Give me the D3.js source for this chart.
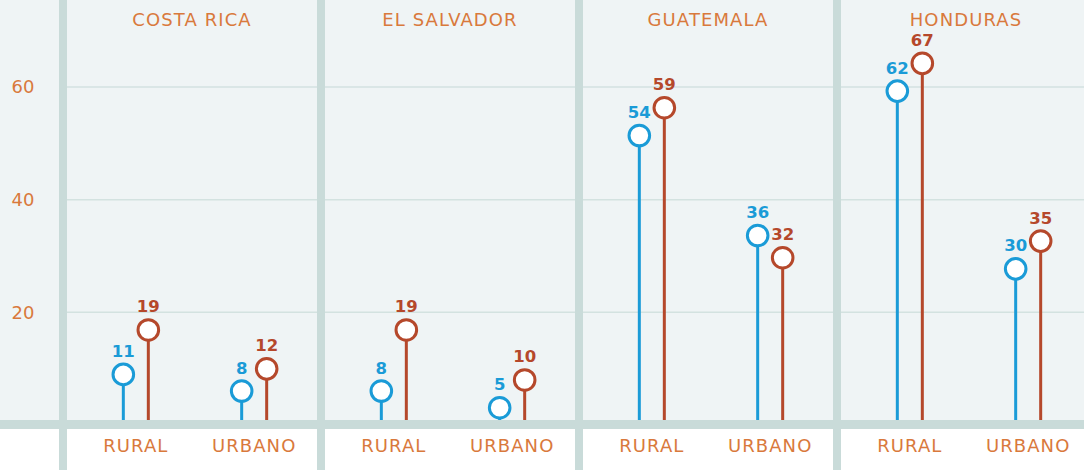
<!DOCTYPE html>
<meta charset="utf-8">
<style>
  body { margin: 0; background: #fff; }
  svg { display: block; }
  text { font-family: "DejaVu Sans", sans-serif; }
</style>
<body></body>
<script src="https://cdn.jsdelivr.net/npm/d3@7"></script>
<script>
  const width = 1084
  const height = 470

  const countries = ["COSTA RICA", "EL SALVADOR", "GUATEMALA", "HONDURAS"]
  const areas = ["RURAL", "URBANO"]
  const yTicks = [20, 40, 60]
  // one value per country, rural then urban
  const blueValues = [[11, 8], [8, 5], [54, 36], [62, 30]]
  const redValues = [[19, 12], [19, 10], [59, 32], [67, 35]]

  const series = [
    { key: "blue", color: "#1a9bd7", values: blueValues },
    { key: "red", color: "#b5482b", values: redValues }
  ]

  const orange = "#d9793c"
  const frame = "#c9dbd9"

  const points = []
  series.forEach(s => {
    countries.forEach((c, i) => {
      areas.forEach((a, j) => {
        points.push({ series: s.key, color: s.color, country: c, area: a, value: s.values[i][j] })
      })
    })
  })

  const xCountry = d3.scaleBand()
    .domain(countries)
    .range([63, 63 + 4 * 258])

  const xArea = d3.scalePoint()
    .domain(areas)
    .range([3, 261])
    .padding(0.59)

  const xSeries = d3.scalePoint()
    .domain(series.map(s => s.key))
    .range([-12.5, 12.5])

  // grid scale
  const y = d3.scaleLinear()
    .domain([0, 75])
    .range([425, 2.5])

  // the dots in the original sit on a slightly different scale than the grid
  const yDot = d3.scaleLinear()
    .domain([0, 75])
    .range([435.5, 18.9])

  const baseTop = 420
  const r = 10.3

  const svg = d3.select("body").append("svg")
    .attr("width", width)
    .attr("height", height)

  svg.append("rect")
    .attr("width", width).attr("height", height)
    .attr("fill", "#eff4f5")

  svg.append("rect")
    .attr("y", 429).attr("width", width).attr("height", height - 429)
    .attr("fill", "#fff")

  // gridlines
  svg.append("g")
    .selectAll("line")
    .data(yTicks)
    .join("line")
    .attr("x1", 67).attr("x2", width)
    .attr("y1", d => y(d)).attr("y2", d => y(d))
    .attr("stroke", "#d3e2e0")
    .attr("stroke-width", 1.5)

  svg.append("g")
    .selectAll("text")
    .data(yTicks)
    .join("text")
    .attr("x", 23)
    .attr("y", d => y(d))
    .attr("dy", "0.36em")
    .attr("text-anchor", "middle")
    .attr("fill", orange)
    .attr("font-size", 18)
    .text(d => d)

  // baseline band + dividers
  svg.append("rect")
    .attr("y", baseTop).attr("width", width).attr("height", 9)
    .attr("fill", frame)

  svg.append("g")
    .selectAll("rect")
    .data(countries)
    .join("rect")
    .attr("x", d => xCountry(d) - 4)
    .attr("width", 8)
    .attr("height", height)
    .attr("fill", frame)

  svg.append("g")
    .selectAll("text")
    .data(countries)
    .join("text")
    .attr("x", d => xCountry(d) + xCountry.bandwidth() / 2)
    .attr("y", 26)
    .attr("text-anchor", "middle")
    .attr("fill", orange)
    .attr("font-size", 18)
    .attr("letter-spacing", 1.1)
    .text(d => d)

  const areaLabels = []
  countries.forEach(c => areas.forEach(a => areaLabels.push({ country: c, area: a })))

  svg.append("g")
    .selectAll("text")
    .data(areaLabels)
    .join("text")
    .attr("x", d => xCountry(d.country) + xArea(d.area))
    .attr("y", 452)
    .attr("text-anchor", "middle")
    .attr("fill", orange)
    .attr("font-size", 18)
    .attr("letter-spacing", 1.1)
    .text(d => d.area)

  // lollipops
  const px = d => xCountry(d.country) + xArea(d.area) + xSeries(d.series)
  const py = d => yDot(d.value)

  const dots = svg.append("g")
    .selectAll("g")
    .data(points)
    .join("g")

  dots.append("line")
    .attr("x1", px).attr("x2", px)
    .attr("y1", baseTop).attr("y2", py)
    .attr("stroke", d => d.color)
    .attr("stroke-width", 3)

  dots.append("circle")
    .attr("cx", px).attr("cy", py)
    .attr("r", r)
    .attr("fill", "#fff")
    .attr("stroke", d => d.color)
    .attr("stroke-width", 3)

  dots.append("text")
    .attr("x", px)
    .attr("y", d => py(d) - 17.5)
    .attr("text-anchor", "middle")
    .attr("fill", d => d.color)
    .attr("font-size", 16.5)
    .attr("font-weight", "bold")
    .text(d => d.value)
</script>
